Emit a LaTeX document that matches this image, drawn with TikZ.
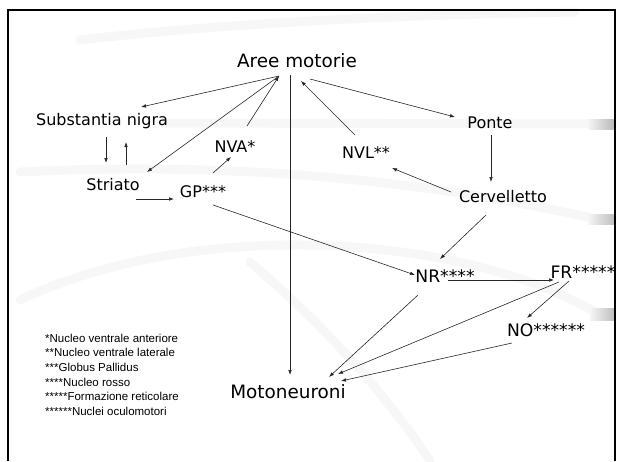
\documentclass[tikz,border=0pt]{standalone}
\usepackage{fontspec}
\setmainfont{DejaVu Sans}
\newfontfamily\legendfont{Liberation Sans}
\usetikzlibrary{arrows.meta}

\tikzset{
  lbl/.style={font=\fontsize{16}{18}\selectfont, inner sep=0pt},
  biglbl/.style={font=\fontsize{18.4}{20}\selectfont, inner sep=0pt},
  nuc/.style={font=\fontsize{17.2}{19}\selectfont, inner sep=0pt},
  arr/.style={-{Latex[length=5pt,width=3.6pt]}, line width=0.6pt, black!85},
  swoosh/.style={line width=9pt, gray!6, line cap=round},
}

\begin{document}
\begin{tikzpicture}[x=1pt,y=-1pt]
\useasboundingbox (0,0) rectangle (621,461);

% background bands
\draw[swoosh] (80,40) .. controls (250,20) and (450,14) .. (575,12);
\draw[swoosh] (165,123) -- (598,124);
\draw[swoosh] (20,172) .. controls (250,160) and (450,185) .. (600,220);
\draw[swoosh] (20,300) .. controls (200,215) and (470,235) .. (600,315);
\draw[swoosh] (250,262) .. controls (330,330) and (390,400) .. (430,461);
\shade[left color=gray!8, right color=gray!55] (588,119) rectangle (614,129);
\shade[left color=gray!8, right color=gray!50] (588,214) rectangle (614,224);
\shade[left color=gray!8, right color=gray!50] (590,308) rectangle (614,320);

% frame
\draw[line width=2.2pt] (8,461) -- (8,10) -- (615,10) -- (615,461);

% nodes
\node[biglbl] (aree) at (297,61) {Aree motorie};
\node[lbl] (sn) at (102,121) {Substantia nigra};
\node[lbl] (ponte) at (490,123) {Ponte};
\node[lbl] (nva) at (235,147) {NVA*};
\node[lbl] (nvl) at (366,153) {NVL**};
\node[lbl] (striato) at (113,185) {Striato};
\node[lbl] (gp) at (203,192) {GP***};
\node[lbl] (cerv) at (503,197) {Cervelletto};
\node[nuc] (nr) at (445,276) {NR****};
\node[nuc] (fr) at (583,272) {FR*****};
\node[nuc] (no) at (546,330) {NO******};
\node[biglbl] (moto) at (288,392) {Motoneuroni};

% legend
\node[anchor=north west, inner sep=0pt, align=left,
      font=\legendfont\fontsize{11.5}{14.7}\selectfont] (leg) at (45,333.5)
  {*Nucleo ventrale anteriore\\
   **Nucleo ventrale laterale\\
   ***Globus Pallidus\\
   ****Nucleo rosso\\
   *****Formazione reticolare\\
   ******Nuclei oculomotori};

% connectors
\draw[arr] ([shift={(-18,15)}]aree.center) -- ([shift={(39,-14)}]sn.center);
\draw[arr] ([shift={(-18,15)}]aree.center) -- ([shift={(34,-13)}]striato.center);
\draw[arr] ([shift={(12,-21)}]nva.center) -- ([shift={(-18,15)}]aree.center);
\draw[arr] ([shift={(-7,14)}]aree.center) -- ([shift={(2,-17)}]moto.center);
\draw[arr] ([shift={(-11,-18)}]nvl.center) -- ([shift={(4,20)}]aree.center);
\draw[arr] ([shift={(13,18)}]aree.center) -- ([shift={(-35,-6)}]ponte.center);
\draw[arr] ([shift={(1,12)}]ponte.center) -- ([shift={(-12,-15)}]cerv.center);
\draw[arr] ([shift={(-52,-5)}]cerv.center) -- ([shift={(26,15)}]nvl.center);
\draw[arr] ([shift={(4,16)}]sn.center) -- ([shift={(-7,-22)}]striato.center);
\draw[arr] ([shift={(13,-20)}]striato.center) -- ([shift={(24,21)}]sn.center);
\draw[arr] ([shift={(23,14)}]striato.center) -- ([shift={(-29,7)}]gp.center);
\draw[arr] ([shift={(10,-19)}]gp.center) -- ([shift={(-4,10)}]nva.center);
\draw[arr] ([shift={(10,13)}]gp.center) -- ([shift={(-30,-1)}]nr.center);
\draw[arr] ([shift={(-17,18)}]cerv.center) -- ([shift={(-5,-17)}]nr.center);
\draw[arr] ([shift={(3,4)}]nr.center) -- ([shift={(-29,8)}]fr.center);
\draw[arr] ([shift={(-27,19)}]nr.center) -- ([shift={(41,-15)}]moto.center);
\draw[arr] ([shift={(-24,10)}]fr.center) -- ([shift={(50,-18)}]moto.center);
\draw[arr] ([shift={(-14,9)}]fr.center) -- ([shift={(-19,-12)}]no.center);
\draw[arr] ([shift={(-34,13)}]no.center) -- ([shift={(53,-11)}]moto.center);
\end{tikzpicture}
\end{document}
